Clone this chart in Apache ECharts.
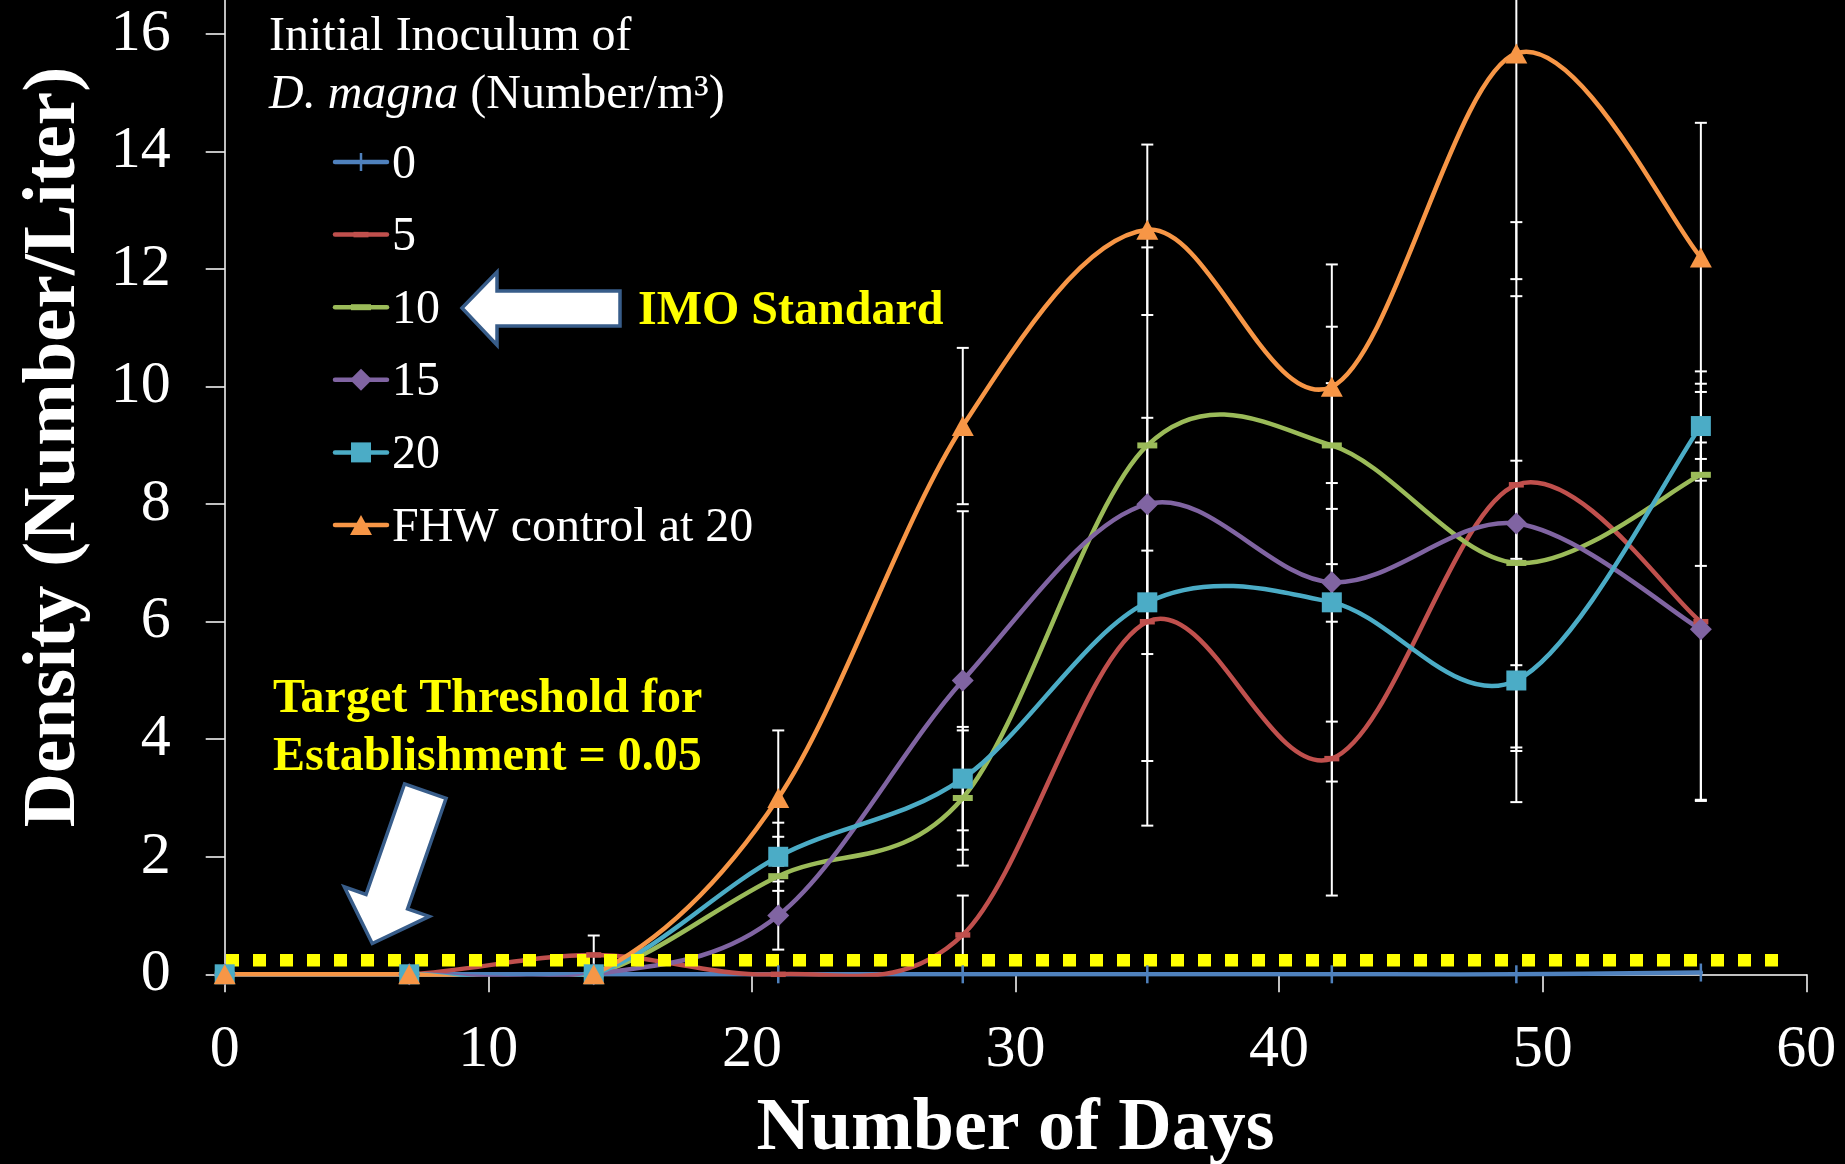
<!DOCTYPE html>
<html><head><meta charset="utf-8">
<script src="https://cdn.jsdelivr.net/npm/echarts@6/dist/echarts.min.js"></script>
<style>html,body{margin:0;padding:0;background:#000;}#chart{width:1845px;height:1164px;}</style>
</head><body><div id="chart"></div>
<script>
// ---- data ----
const days = [0, 7, 14, 21, 28, 35, 42, 49, 56];
const seriesNames = ['0', '5', '10', '15', '20', 'FHW control at 20'];
const density0   = [0, 0, 0,    0,    0,    0,     0,    0,     0.03];
const density5   = [0, 0, 0.33, 0,    0.67, 6,     3.67, 8.33,  6];
const density10  = [0, 0, 0,    1.67, 3,    9,     9,    7,     8.5];
const density15  = [0, 0, 0,    1,    5,    8,     6.67, 7.67,  5.87];
const density20  = [0, 0, 0,    2,    3.33, 6.33,  6.33, 5,     9.33];
const densityFHW = [0, 0, 0,    3,    9.33, 12.67, 10,   15.67, 12.2];
const err0   = [0, 0, 0,    0,    0,    0,    0,    0,    0];
const err5   = [0, 0, 0.33, 0,    0.67, 3.47, 2.33, 4.47, 3.05];
const err10  = [0, 0, 0,    0.67, 1.15, 0,    2.02, 1.74, 1.55];
const err15  = [0, 0, 0,    0.58, 2.88, 4.37, 3.39, 3.87, 2.9];
const err20  = [0, 0, 0,    0.58, 0.88, 0.88, 2.03, 2.07, 0.93];
const errFHW = [0, 0, 0,    1.15, 1.33, 1.45, 2.08, 3.84, 2.29];
const yTicks = [0, 2, 4, 6, 8, 10, 12, 14, 16];
const xTicks = [0, 10, 20, 30, 40, 50, 60];
const thresholdLevel = 0.24;       // drawn dotted threshold line level
const thresholdSpan = [0.05, 59.1];
const legendTitle1 = 'Initial Inoculum of';
const legendTitle2 = '{i|D. magna} (Number/m³)';
const imoText = 'IMO Standard';
const targetText1 = 'Target Threshold for';
const targetText2 = 'Establishment = 0.05';

// ---- styles ----
const allValues = [density0, density5, density10, density15, density20, densityFHW];
const allErrors = [err0, err5, err10, err15, err20, errFHW];
const colors = ['#4F81BD', '#C0504D', '#9BBB59', '#8064A2', '#4BACC6', '#F79646'];
const symbols = ['rect', 'rect', 'rect', 'diamond', 'rect', 'triangle'];
const symbolSizes = [[2.5, 18], [15, 5.5], [20, 6], [22, 22], [20, 20], [22, 20]];
const SERIF = '"Liberation Serif", "Times New Roman", serif';

// Excel-like smoothing (Bezier control points)
function excelCtrl(p0, p1, p2, p3) {
  const d = (a, b) => Math.hypot(a[0] - b[0], a[1] - b[1]);
  const d02 = d(p0, p2), d12 = d(p1, p2), d13 = d(p1, p3);
  let f0 = 1 / 6, f1 = 1 / 6;
  if (d02 > 0 && d02 / 6 >= d12 / 2) f0 = (d12 / 2) / d02;
  if (d13 > 0 && d13 / 6 >= d12 / 2) f1 = (d12 / 2) / d13;
  return [[p1[0] + f0 * (p2[0] - p0[0]), p1[1] + f0 * (p2[1] - p0[1])],
          [p2[0] - f1 * (p3[0] - p1[0]), p2[1] - f1 * (p3[1] - p1[1])]];
}

function curveSeries(idx) {
  const vals = allValues[idx];
  const pts = days.map((dd, i) => [dd, vals[i]]);
  const segs = [];
  for (let i = 0; i < pts.length - 1; i++) {
    const p0 = pts[Math.max(i - 1, 0)], p1 = pts[i], p2 = pts[i + 1], p3 = pts[Math.min(i + 2, pts.length - 1)];
    segs.push([p0[0], p0[1], p1[0], p1[1], p2[0], p2[1], p3[0], p3[1]]);
  }
  const color = colors[idx];
  return {
    type: 'custom', name: 'curve-' + seriesNames[idx], silent: true, z: 3 + idx * 0.01,
    data: segs, encode: { x: [0, 2, 4, 6], y: [1, 3, 5, 7] },
    renderItem(params, api) {
      const P = [0, 1, 2, 3].map(k => api.coord([api.value(2 * k), api.value(2 * k + 1)]));
      const c = excelCtrl(P[0], P[1], P[2], P[3]);
      const cs = params.coordSys;
      return {
        type: 'bezierCurve',
        shape: { x1: P[1][0], y1: P[1][1], x2: P[2][0], y2: P[2][1], cpx1: c[0][0], cpy1: c[0][1], cpx2: c[1][0], cpy2: c[1][1] },
        style: { stroke: color, lineWidth: 4.5, fill: 'none', lineCap: 'round' },
        clipPath: { type: 'rect', shape: { x: cs.x - 20, y: cs.y - 20, width: cs.width + 40, height: cs.height + 20 + 2.5 } }
      };
    }
  };
}

function errorSeries(idx) {
  const vals = allValues[idx], errs = allErrors[idx];
  return {
    type: 'custom', name: 'err-' + seriesNames[idx], silent: true, z: 2,
    data: days.map((dd, i) => [dd, vals[i], errs[i]]),
    encode: { x: 0, y: 1 },
    renderItem(params, api) {
      const x = api.value(0), y = api.value(1), e = api.value(2);
      if (!e) return null;
      const t = api.coord([x, y + e]), b = api.coord([x, y - e]);
      const hw = 6, st = { stroke: '#FFFFFF', lineWidth: 2 };
      return { type: 'group', children: [
        { type: 'line', shape: { x1: t[0], y1: t[1], x2: b[0], y2: b[1] }, style: st },
        { type: 'line', shape: { x1: t[0] - hw, y1: t[1], x2: t[0] + hw, y2: t[1] }, style: st },
        { type: 'line', shape: { x1: b[0] - hw, y1: b[1], x2: b[0] + hw, y2: b[1] }, style: st }
      ]};
    }
  };
}

function markerSeries(idx) {
  const vals = allValues[idx];
  return {
    type: 'scatter', name: seriesNames[idx], silent: true, z: 5 + idx * 0.01,
    symbol: symbols[idx], symbolSize: symbolSizes[idx],
    itemStyle: { color: colors[idx], opacity: 1 },
    data: days.map((dd, i) => [dd, vals[i]])
  };
}

const series = [];
for (let i = 0; i < 6; i++) series.push(errorSeries(i));
for (let i = 0; i < 6; i++) series.push(curveSeries(i));
series.push({
  type: 'line', name: 'threshold', silent: true, z: 4, symbol: 'none',
  data: [[thresholdSpan[0], thresholdLevel], [thresholdSpan[1], thresholdLevel]],
  lineStyle: { color: '#FFFF00', width: 12.5, type: [13, 14], cap: 'butt' }
});
for (let i = 0; i < 6; i++) series.push(markerSeries(i));

// ---- legend & annotations (graphic) ----
const graphic = [];
const TY = 3; // text vertical nudge
const legendY0 = 162, legendStep = 72.6, legendX1 = 335, legendX2 = 387, legendMX = 361, legendTX = 392;
graphic.push({ type: 'text', x: 269, y: 34 + TY, silent: true,
  style: { text: legendTitle1, font: '48px ' + SERIF, fill: '#FFFFFF', align: 'left', verticalAlign: 'middle' } });
graphic.push({ type: 'text', x: 269, y: 92 + TY, silent: true,
  style: { text: legendTitle2, font: '48px ' + SERIF, fill: '#FFFFFF', align: 'left', verticalAlign: 'middle',
    rich: { i: { fontStyle: 'italic', fontSize: 48, fontFamily: SERIF, fill: '#FFFFFF' } } } });
seriesNames.forEach((nm, i) => {
  const y = legendY0 + i * legendStep, c = colors[i];
  graphic.push({ type: 'line', silent: true, shape: { x1: legendX1, y1: y, x2: legendX2, y2: y },
    style: { stroke: c, lineWidth: 4.5, lineCap: 'round' } });
  const sz = symbolSizes[i];
  let m;
  if (symbols[i] === 'rect') {
    m = { type: 'rect', shape: { x: legendMX - sz[0] / 2, y: y - sz[1] / 2, width: sz[0], height: sz[1] }, style: { fill: c } };
  } else if (symbols[i] === 'diamond') {
    m = { type: 'polygon', shape: { points: [[legendMX, y - sz[1] / 2], [legendMX + sz[0] / 2, y], [legendMX, y + sz[1] / 2], [legendMX - sz[0] / 2, y]] }, style: { fill: c } };
  } else {
    m = { type: 'polygon', shape: { points: [[legendMX, y - sz[1] / 2], [legendMX + sz[0] / 2, y + sz[1] / 2], [legendMX - sz[0] / 2, y + sz[1] / 2]] }, style: { fill: c } };
  }
  m.silent = true;
  graphic.push(m);
  graphic.push({ type: 'text', x: legendTX, y: y + TY, silent: true,
    style: { text: nm, font: '48px ' + SERIF, fill: '#FFFFFF', align: 'left', verticalAlign: 'middle' } });
});
// IMO arrow + text
graphic.push({ type: 'polygon', silent: true,
  shape: { points: [[462, 308], [497, 272], [497, 291], [620, 291], [620, 326], [497, 326], [497, 345]] },
  style: { fill: '#FFFFFF', stroke: '#385D8A', lineWidth: 3.5, lineJoin: 'miter' } });
graphic.push({ type: 'text', x: 638, y: 308 + TY + 1, silent: true,
  style: { text: imoText, font: 'bold 48px ' + SERIF, fill: '#FFFF00', align: 'left', verticalAlign: 'middle' } });
// target texts + arrow
graphic.push({ type: 'text', x: 273, y: 696 + TY + 1, silent: true,
  style: { text: targetText1, font: 'bold 48px ' + SERIF, fill: '#FFFF00', align: 'left', verticalAlign: 'middle' } });
graphic.push({ type: 'text', x: 273, y: 754 + TY + 1, silent: true,
  style: { text: targetText2, font: 'bold 48px ' + SERIF, fill: '#FFFF00', align: 'left', verticalAlign: 'middle' } });
(function () {
  const T = [425.3, 791.2], u = [-0.329, 0.944], n = [0.944, 0.329];
  const P = (a, b) => [T[0] + a * u[0] + b * n[0], T[1] + a * u[1] + b * n[1]];
  graphic.push({ type: 'polygon', silent: true,
    shape: { points: [P(0, -22), P(0, 22), P(117, 22), P(117, 45), P(161.3, 0), P(117, -45), P(117, -22)] },
    style: { fill: '#FFFFFF', stroke: '#385D8A', lineWidth: 3.5, lineJoin: 'miter' } });
})();
// y axis title
graphic.push({ type: 'text', x: 55, y: 447, rotation: Math.PI / 2, silent: true,
  style: { text: 'Density (Number/Liter)', font: 'bold 75px ' + SERIF, fill: '#FFFFFF', align: 'center', verticalAlign: 'middle' } });

const option = {
  backgroundColor: '#000000',
  animation: false,
  grid: { left: 224.7, right: 38.7, top: 0, bottom: 189.7, containLabel: false, outerBoundsMode: 'none' },
  xAxis: {
    type: 'value', min: 0, max: 60, interval: 10,
    name: 'Number of Days', nameLocation: 'middle', nameGap: 119,
    nameTextStyle: { color: '#FFFFFF', fontFamily: SERIF, fontWeight: 'bold', fontSize: 74 },
    axisLine: { show: true, onZero: false, lineStyle: { color: '#FFFFFF', width: 1.5 } },
    axisTick: { show: true, inside: false, length: 18, customValues: xTicks, lineStyle: { color: '#FFFFFF', width: 1.5 } },
    axisLabel: { customValues: xTicks, margin: 46, color: '#FFFFFF', fontFamily: SERIF, fontSize: 60 },
    splitLine: { show: false }
  },
  yAxis: {
    type: 'value', min: 0, max: 16.58,
    axisLine: { show: true, onZero: false, lineStyle: { color: '#FFFFFF', width: 1.5 } },
    axisTick: { show: true, inside: false, length: 19, customValues: yTicks, lineStyle: { color: '#FFFFFF', width: 1.5 } },
    axisLabel: { customValues: yTicks, margin: 54, color: '#FFFFFF', fontFamily: SERIF, fontSize: 60, padding: [9, 0, 0, 0] },
    splitLine: { show: false }
  },
  graphic: graphic,
  series: series
};
const chart = echarts.init(document.getElementById('chart'), null, { renderer: 'canvas' });
chart.setOption(option);
</script></body></html>
